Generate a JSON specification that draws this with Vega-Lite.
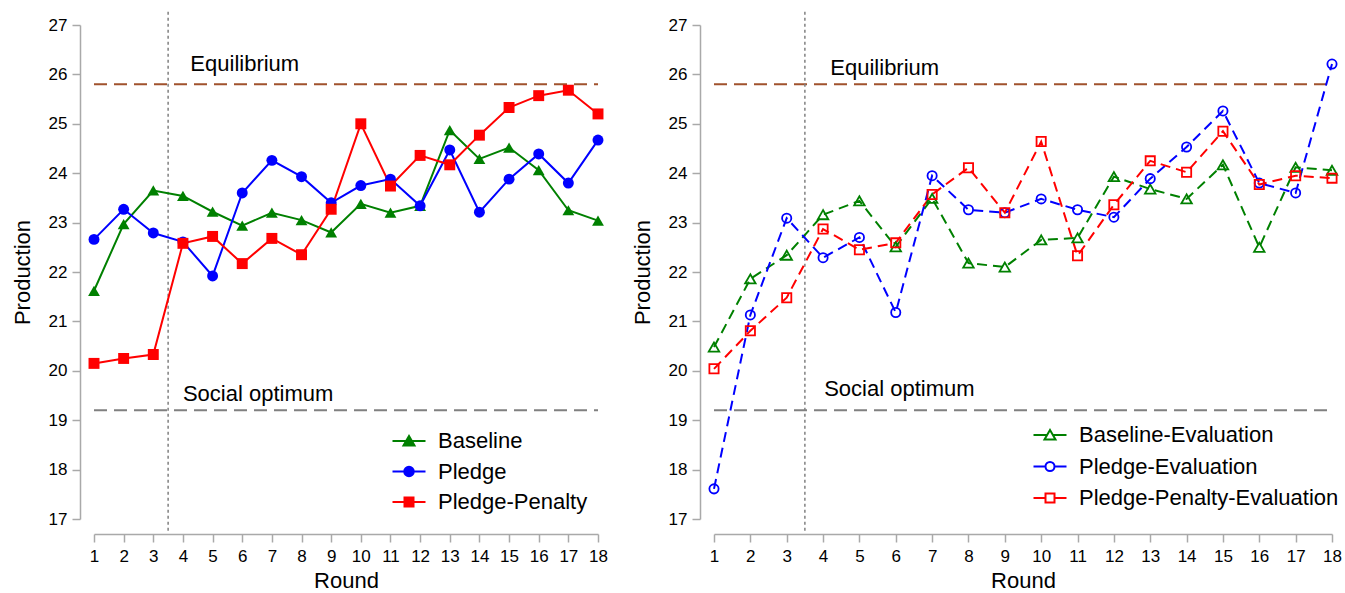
{
  "$schema": "https://vega.github.io/schema/vega-lite/v6.json",
  "background": "white",
  "padding": {"left": 11, "top": 10, "right": 5, "bottom": 0},
  "spacing": 23,
  "config": {
    "view": {"stroke": null},
    "font": "Liberation Sans",
    "axis": {
      "domainColor": "#a9a9a9", "tickColor": "#a9a9a9", "domainWidth": 1.5, "tickWidth": 1.5,
      "tickSize": 8, "labelFontSize": 17, "labelColor": "black", "labelFont": "Liberation Sans",
      "titleFontSize": 22, "titleFontWeight": "normal", "titleColor": "black", "titleFont": "Liberation Sans", "grid": false
    },
    "axisX": {"offset": 15, "labelPadding": 6, "titlePadding": 6, "tickCount": 18, "labelFlush": false, "labelOverlap": false},
    "axisY": {"offset": 14, "labelPadding": 5, "titlePadding": 14, "tickCount": 10},
    "legend": {"labelFontSize": 22, "labelColor": "black", "labelFont": "Liberation Sans", "labelLimit": 500, "rowPadding": 8.5, "labelOffset": 18, "symbolSize": 100, "symbolStrokeWidth": 2, "symbolOpacity": 1}
  },
  "datasets": {
    "left": [
      {"Round": 1, "Series": "Baseline", "Production": 21.62},
      {"Round": 2, "Series": "Baseline", "Production": 22.97},
      {"Round": 3, "Series": "Baseline", "Production": 23.65},
      {"Round": 4, "Series": "Baseline", "Production": 23.54},
      {"Round": 5, "Series": "Baseline", "Production": 23.22},
      {"Round": 6, "Series": "Baseline", "Production": 22.94},
      {"Round": 7, "Series": "Baseline", "Production": 23.2},
      {"Round": 8, "Series": "Baseline", "Production": 23.05},
      {"Round": 9, "Series": "Baseline", "Production": 22.8},
      {"Round": 10, "Series": "Baseline", "Production": 23.38},
      {"Round": 11, "Series": "Baseline", "Production": 23.2},
      {"Round": 12, "Series": "Baseline", "Production": 23.34},
      {"Round": 13, "Series": "Baseline", "Production": 24.87},
      {"Round": 14, "Series": "Baseline", "Production": 24.29},
      {"Round": 15, "Series": "Baseline", "Production": 24.52},
      {"Round": 16, "Series": "Baseline", "Production": 24.06},
      {"Round": 17, "Series": "Baseline", "Production": 23.25},
      {"Round": 18, "Series": "Baseline", "Production": 23.04},
      {"Round": 1, "Series": "Pledge", "Production": 22.66},
      {"Round": 2, "Series": "Pledge", "Production": 23.27},
      {"Round": 3, "Series": "Pledge", "Production": 22.79},
      {"Round": 4, "Series": "Pledge", "Production": 22.61},
      {"Round": 5, "Series": "Pledge", "Production": 21.92},
      {"Round": 6, "Series": "Pledge", "Production": 23.6},
      {"Round": 7, "Series": "Pledge", "Production": 24.26},
      {"Round": 8, "Series": "Pledge", "Production": 23.93},
      {"Round": 9, "Series": "Pledge", "Production": 23.4},
      {"Round": 10, "Series": "Pledge", "Production": 23.75},
      {"Round": 11, "Series": "Pledge", "Production": 23.88},
      {"Round": 12, "Series": "Pledge", "Production": 23.34},
      {"Round": 13, "Series": "Pledge", "Production": 24.47},
      {"Round": 14, "Series": "Pledge", "Production": 23.21},
      {"Round": 15, "Series": "Pledge", "Production": 23.88},
      {"Round": 16, "Series": "Pledge", "Production": 24.39},
      {"Round": 17, "Series": "Pledge", "Production": 23.8},
      {"Round": 18, "Series": "Pledge", "Production": 24.67},
      {"Round": 1, "Series": "Pledge-Penalty", "Production": 20.15},
      {"Round": 2, "Series": "Pledge-Penalty", "Production": 20.25},
      {"Round": 3, "Series": "Pledge-Penalty", "Production": 20.33},
      {"Round": 4, "Series": "Pledge-Penalty", "Production": 22.58},
      {"Round": 5, "Series": "Pledge-Penalty", "Production": 22.72},
      {"Round": 6, "Series": "Pledge-Penalty", "Production": 22.17},
      {"Round": 7, "Series": "Pledge-Penalty", "Production": 22.68},
      {"Round": 8, "Series": "Pledge-Penalty", "Production": 22.35},
      {"Round": 9, "Series": "Pledge-Penalty", "Production": 23.27},
      {"Round": 10, "Series": "Pledge-Penalty", "Production": 25.0},
      {"Round": 11, "Series": "Pledge-Penalty", "Production": 23.74},
      {"Round": 12, "Series": "Pledge-Penalty", "Production": 24.36},
      {"Round": 13, "Series": "Pledge-Penalty", "Production": 24.17},
      {"Round": 14, "Series": "Pledge-Penalty", "Production": 24.77},
      {"Round": 15, "Series": "Pledge-Penalty", "Production": 25.33},
      {"Round": 16, "Series": "Pledge-Penalty", "Production": 25.57},
      {"Round": 17, "Series": "Pledge-Penalty", "Production": 25.68},
      {"Round": 18, "Series": "Pledge-Penalty", "Production": 25.2}
    ],
    "right": [
      {"Round": 1, "Series": "Baseline-Evaluation", "Production": 20.48},
      {"Round": 2, "Series": "Baseline-Evaluation", "Production": 21.86},
      {"Round": 3, "Series": "Baseline-Evaluation", "Production": 22.34},
      {"Round": 4, "Series": "Baseline-Evaluation", "Production": 23.16},
      {"Round": 5, "Series": "Baseline-Evaluation", "Production": 23.44},
      {"Round": 6, "Series": "Baseline-Evaluation", "Production": 22.51},
      {"Round": 7, "Series": "Baseline-Evaluation", "Production": 23.49},
      {"Round": 8, "Series": "Baseline-Evaluation", "Production": 22.18},
      {"Round": 9, "Series": "Baseline-Evaluation", "Production": 22.1},
      {"Round": 10, "Series": "Baseline-Evaluation", "Production": 22.65},
      {"Round": 11, "Series": "Baseline-Evaluation", "Production": 22.69},
      {"Round": 12, "Series": "Baseline-Evaluation", "Production": 23.93},
      {"Round": 13, "Series": "Baseline-Evaluation", "Production": 23.68},
      {"Round": 14, "Series": "Baseline-Evaluation", "Production": 23.48},
      {"Round": 15, "Series": "Baseline-Evaluation", "Production": 24.17},
      {"Round": 16, "Series": "Baseline-Evaluation", "Production": 22.5},
      {"Round": 17, "Series": "Baseline-Evaluation", "Production": 24.12},
      {"Round": 18, "Series": "Baseline-Evaluation", "Production": 24.06},
      {"Round": 1, "Series": "Pledge-Evaluation", "Production": 17.61},
      {"Round": 2, "Series": "Pledge-Evaluation", "Production": 21.13},
      {"Round": 3, "Series": "Pledge-Evaluation", "Production": 23.09},
      {"Round": 4, "Series": "Pledge-Evaluation", "Production": 22.29},
      {"Round": 5, "Series": "Pledge-Evaluation", "Production": 22.7},
      {"Round": 6, "Series": "Pledge-Evaluation", "Production": 21.18},
      {"Round": 7, "Series": "Pledge-Evaluation", "Production": 23.95},
      {"Round": 8, "Series": "Pledge-Evaluation", "Production": 23.26},
      {"Round": 9, "Series": "Pledge-Evaluation", "Production": 23.2},
      {"Round": 10, "Series": "Pledge-Evaluation", "Production": 23.48},
      {"Round": 11, "Series": "Pledge-Evaluation", "Production": 23.26},
      {"Round": 12, "Series": "Pledge-Evaluation", "Production": 23.11},
      {"Round": 13, "Series": "Pledge-Evaluation", "Production": 23.89},
      {"Round": 14, "Series": "Pledge-Evaluation", "Production": 24.53},
      {"Round": 15, "Series": "Pledge-Evaluation", "Production": 25.26},
      {"Round": 16, "Series": "Pledge-Evaluation", "Production": 23.8},
      {"Round": 17, "Series": "Pledge-Evaluation", "Production": 23.6},
      {"Round": 18, "Series": "Pledge-Evaluation", "Production": 26.21},
      {"Round": 1, "Series": "Pledge-Penalty-Evaluation", "Production": 20.04},
      {"Round": 2, "Series": "Pledge-Penalty-Evaluation", "Production": 20.81},
      {"Round": 3, "Series": "Pledge-Penalty-Evaluation", "Production": 21.48},
      {"Round": 4, "Series": "Pledge-Penalty-Evaluation", "Production": 22.87},
      {"Round": 5, "Series": "Pledge-Penalty-Evaluation", "Production": 22.45},
      {"Round": 6, "Series": "Pledge-Penalty-Evaluation", "Production": 22.59},
      {"Round": 7, "Series": "Pledge-Penalty-Evaluation", "Production": 23.57},
      {"Round": 8, "Series": "Pledge-Penalty-Evaluation", "Production": 24.11},
      {"Round": 9, "Series": "Pledge-Penalty-Evaluation", "Production": 23.2},
      {"Round": 10, "Series": "Pledge-Penalty-Evaluation", "Production": 24.64},
      {"Round": 11, "Series": "Pledge-Penalty-Evaluation", "Production": 22.33},
      {"Round": 12, "Series": "Pledge-Penalty-Evaluation", "Production": 23.36},
      {"Round": 13, "Series": "Pledge-Penalty-Evaluation", "Production": 24.25},
      {"Round": 14, "Series": "Pledge-Penalty-Evaluation", "Production": 24.02},
      {"Round": 15, "Series": "Pledge-Penalty-Evaluation", "Production": 24.85},
      {"Round": 16, "Series": "Pledge-Penalty-Evaluation", "Production": 23.77},
      {"Round": 17, "Series": "Pledge-Penalty-Evaluation", "Production": 23.95},
      {"Round": 18, "Series": "Pledge-Penalty-Evaluation", "Production": 23.9}
    ],
    "eq": [{"Round": 1, "end": 18, "Production": 25.8}],
    "so": [{"Round": 1, "end": 18, "Production": 19.2}],
    "phase": [{"Round": 3.5, "Production": 27.27, "bottom": 16.7}],
    "leftLabels": [
      {"Round": 4.25, "Production": 26.07, "label": "Equilibrium"},
      {"Round": 4.0, "Production": 19.39, "label": "Social optimum"}
    ],
    "rightLabels": [
      {"Round": 4.2, "Production": 25.99, "label": "Equilibrium"},
      {"Round": 4.03, "Production": 19.48, "label": "Social optimum"}
    ]
  },
  "resolve": {
    "scale": {"color": "independent", "stroke": "independent", "shape": "independent", "x": "independent", "y": "independent"},
    "legend": {"color": "independent", "stroke": "independent", "shape": "independent"}
  },
  "hconcat": [
    {
      "width": 504,
      "height": 494,
      "encoding": {
        "x": {"field": "Round", "type": "quantitative", "title": "Round", "scale": {"domain": [1, 18], "nice": false, "zero": false}},
        "y": {"field": "Production", "type": "quantitative", "title": "Production", "scale": {"domain": [17, 27], "nice": false, "zero": false}}
      },
      "layer": [
        {"data": {"name": "eq"}, "mark": {"type": "rule", "strokeWidth": 2, "strokeDash": [13, 7], "color": "#A0522D"}, "encoding": {"x2": {"field": "end"}}},
        {"data": {"name": "so"}, "mark": {"type": "rule", "strokeWidth": 2, "strokeDash": [13, 7], "color": "#808080"}, "encoding": {"x2": {"field": "end"}}},
        {"data": {"name": "phase"}, "mark": {"type": "rule", "strokeWidth": 1.5, "strokeDash": [3, 3], "color": "#808080"}, "encoding": {"y2": {"field": "bottom"}}},
        {"data": {"name": "leftLabels"}, "mark": {"type": "text", "align": "left", "baseline": "alphabetic", "fontSize": 22, "color": "black", "font": "Liberation Sans"}, "encoding": {"text": {"field": "label"}}},
        {"data": {"name": "left"}, "transform": [{"filter": {"field": "Series", "equal": "Baseline"}}], "mark": {"type": "line", "strokeWidth": 2, "color": "#008000"}, "encoding": {}},
        {"data": {"name": "left"}, "transform": [{"filter": {"field": "Series", "equal": "Pledge"}}], "mark": {"type": "line", "strokeWidth": 2, "color": "#0000FF"}, "encoding": {}},
        {"data": {"name": "left"}, "transform": [{"filter": {"field": "Series", "equal": "Pledge-Penalty"}}], "mark": {"type": "line", "strokeWidth": 2, "color": "#FF0000"}, "encoding": {}},
        {"data": {"name": "left"}, "transform": [{"filter": {"field": "Series", "equal": "Baseline"}}], "mark": {"type": "point", "filled": true, "opacity": 1, "size": 140, "shape": "triangle-up", "color": "#008000"}},
        {"data": {"name": "left"}, "transform": [{"filter": {"field": "Series", "equal": "Pledge"}}], "mark": {"type": "point", "filled": true, "opacity": 1, "size": 120, "shape": "circle", "color": "#0000FF"}},
        {"data": {"name": "left"}, "transform": [{"filter": {"field": "Series", "equal": "Pledge-Penalty"}}], "mark": {"type": "point", "filled": true, "opacity": 1, "size": 120, "shape": "square", "color": "#FF0000"}},
        {
          "data": {"name": "left"},
          "mark": {"type": "point", "filled": true, "opacity": 0, "size": 10},
          "encoding": {
            "color": {"field": "Series", "type": "nominal", "scale": {"domain": ["Baseline", "Pledge", "Pledge-Penalty"], "range": ["#008000", "#0000FF", "#FF0000"]}, "legend": {"title": null, "orient": "none", "legendX": 304, "legendY": 405, "symbolOpacity": 1}},
            "stroke": {"field": "Series", "type": "nominal", "scale": {"domain": ["Baseline", "Pledge", "Pledge-Penalty"], "range": ["#008000", "#0000FF", "#FF0000"]}, "legend": {"title": null, "orient": "none", "legendX": 304, "legendY": 405, "symbolOpacity": 1}},
            "shape": {"field": "Series", "type": "nominal", "scale": {"domain": ["Baseline", "Pledge", "Pledge-Penalty"], "range": ["M-3.3,0H3.3M0,-1L1.1,0.9L-1.1,0.9Z", "M-3.3,0H3.3M-0.95,0A0.95,0.95,0,1,1,0.95,0A0.95,0.95,0,1,1,-0.95,0Z", "M-3.3,0H3.3M-0.9,-0.9H0.9V0.9H-0.9Z"]}, "legend": {"title": null, "orient": "none", "legendX": 304, "legendY": 405, "symbolOpacity": 1}}
          }
        }
      ]
    },
    {
      "width": 618,
      "height": 494,
      "encoding": {
        "x": {"field": "Round", "type": "quantitative", "title": "Round", "scale": {"domain": [1, 18], "nice": false, "zero": false}},
        "y": {"field": "Production", "type": "quantitative", "title": "Production", "scale": {"domain": [17, 27], "nice": false, "zero": false}}
      },
      "layer": [
        {"data": {"name": "eq"}, "mark": {"type": "rule", "strokeWidth": 2, "strokeDash": [13, 7], "color": "#A0522D"}, "encoding": {"x2": {"field": "end"}}},
        {"data": {"name": "so"}, "mark": {"type": "rule", "strokeWidth": 2, "strokeDash": [13, 7], "color": "#808080"}, "encoding": {"x2": {"field": "end"}}},
        {"data": {"name": "phase"}, "mark": {"type": "rule", "strokeWidth": 1.5, "strokeDash": [3, 3], "color": "#808080"}, "encoding": {"y2": {"field": "bottom"}}},
        {"data": {"name": "rightLabels"}, "mark": {"type": "text", "align": "left", "baseline": "alphabetic", "fontSize": 22, "color": "black", "font": "Liberation Sans"}, "encoding": {"text": {"field": "label"}}},
        {"data": {"name": "right"}, "transform": [{"filter": {"field": "Series", "equal": "Baseline-Evaluation"}}], "mark": {"type": "line", "strokeWidth": 2, "strokeDash": [10, 6], "color": "#008000"}, "encoding": {}},
        {"data": {"name": "right"}, "transform": [{"filter": {"field": "Series", "equal": "Pledge-Evaluation"}}], "mark": {"type": "line", "strokeWidth": 2, "strokeDash": [10, 6], "color": "#0000FF"}, "encoding": {}},
        {"data": {"name": "right"}, "transform": [{"filter": {"field": "Series", "equal": "Pledge-Penalty-Evaluation"}}], "mark": {"type": "line", "strokeWidth": 2, "strokeDash": [10, 6], "color": "#FF0000"}, "encoding": {}},
        {"data": {"name": "right"}, "transform": [{"filter": {"field": "Series", "equal": "Baseline-Evaluation"}}], "mark": {"type": "point", "filled": false, "opacity": 1, "size": 110, "strokeWidth": 1.8, "shape": "triangle-up", "color": "#008000"}},
        {"data": {"name": "right"}, "transform": [{"filter": {"field": "Series", "equal": "Pledge-Evaluation"}}], "mark": {"type": "point", "filled": false, "opacity": 1, "size": 85, "strokeWidth": 1.8, "shape": "circle", "color": "#0000FF"}},
        {"data": {"name": "right"}, "transform": [{"filter": {"field": "Series", "equal": "Pledge-Penalty-Evaluation"}}], "mark": {"type": "point", "filled": false, "opacity": 1, "size": 85, "strokeWidth": 1.8, "shape": "square", "color": "#FF0000"}},
        {
          "data": {"name": "right"},
          "mark": {"type": "point", "filled": false, "opacity": 0, "size": 10},
          "encoding": {
            "stroke": {"field": "Series", "type": "nominal", "scale": {"domain": ["Baseline-Evaluation", "Pledge-Evaluation", "Pledge-Penalty-Evaluation"], "range": ["#008000", "#0000FF", "#FF0000"]}, "legend": {"title": null, "orient": "none", "legendX": 325, "legendY": 399, "rowPadding": 9.5, "symbolOpacity": 1}},
            "shape": {"field": "Series", "type": "nominal", "scale": {"domain": ["Baseline-Evaluation", "Pledge-Evaluation", "Pledge-Penalty-Evaluation"], "range": ["M-3.3,0H-0.55M0.55,0H3.3M0,-1L1.1,0.9L-1.1,0.9Z", "M-3.3,0H-0.9M0.9,0H3.3M-0.9,0A0.9,0.9,0,1,1,0.9,0A0.9,0.9,0,1,1,-0.9,0Z", "M-3.3,0H-0.9M0.9,0H3.3M-0.9,-0.9H0.9V0.9H-0.9Z"]}, "legend": {"title": null, "orient": "none", "legendX": 325, "legendY": 399, "rowPadding": 9.5, "symbolOpacity": 1}}
          }
        }
      ]
    }
  ]
}
